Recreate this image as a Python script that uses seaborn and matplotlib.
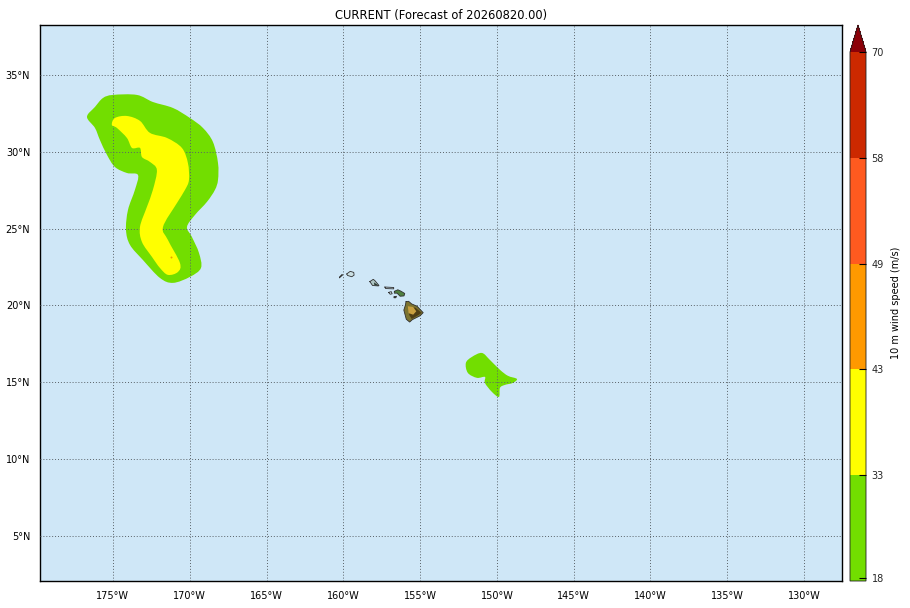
import matplotlib
matplotlib.use("Agg")
import matplotlib.pyplot as plt
from matplotlib.colors import ListedColormap, BoundaryNorm
from matplotlib.cm import ScalarMappable
from matplotlib.path import Path
from matplotlib.patches import PathPatch
import seaborn as sns

title = "CURRENT (Forecast of 20260820.00)"
cbar_label = "10 m wind speed (m/s)"
lon_ticks = [-175, -170, -165, -160, -155, -150, -145, -140, -135, -130]
lat_ticks = [5, 10, 15, 20, 25, 30, 35]
levels = [17.5, 33, 43, 49, 58, 70]
level_ticks = [18, 33, 43, 49, 58, 70]
level_colors = ["#72DE00", "#FFFF00", "#FF9900", "#FF5A1F", "#CC2900"]
over_color = "#8C0008"
ocean_color = "#CFE7F7"

green_a_lon = [-176.69,-176.17,-175.65,-175.0,-173.44,-172.40,-171.09,-169.99,-169.14,-168.49,-168.16,-168.16,-168.36,-168.88,-169.66,-170.18,-169.86,-169.40,-169.27,-169.99,-171.09,-171.94,-173.05,-173.89,-174.15,-174.02,-173.57,-173.37,-174.09,-174.87,-175.39,-175.85,-176.17]
green_a_lat = [32.27,32.92,33.50,33.70,33.70,33.24,32.85,32.20,31.55,30.64,29.27,28.17,27.52,26.74,25.89,25.11,24.46,23.42,22.44,21.86,21.47,21.79,22.96,23.94,24.92,26.22,27.52,28.49,28.62,29.01,29.80,30.77,31.55]
yellow_lon = [-175.07,-174.87,-174.09,-173.24,-172.59,-171.48,-170.51,-170.12,-170.05,-170.31,-170.83,-171.74,-171.42,-170.64,-170.77,-171.42,-171.94,-172.46,-173.11,-173.24,-172.79,-172.40,-172.14,-172.59,-173.11,-173.24,-173.76,-174.09,-174.74]
yellow_lat = [31.75,32.20,32.33,32.01,31.23,30.90,30.25,29.27,28.17,27.52,26.67,25.11,24.26,22.77,22.18,21.99,22.44,23.16,24.13,25.11,26.41,27.52,28.82,29.34,29.66,30.25,30.25,30.90,31.55]
green_b_lon = [-152.02,-151.63,-150.98,-150.46,-149.80,-149.28,-148.70,-148.96,-149.48,-149.80,-149.87,-150.33,-150.78,-150.78,-151.30,-151.89]
green_b_lat = [16.26,16.65,16.91,16.46,15.81,15.42,15.22,14.96,14.83,14.64,14.05,14.38,14.96,15.35,15.29,15.61]
spot_lon = [-171.2]
spot_lat = [23.15]

islands = {
    "niihau": ([-160.25,-160.05,-160.08,-160.25], [21.80,21.98,22.02,21.85], "#4A5A50"),
    "kauai": ([-159.78,-159.55,-159.32,-159.30,-159.45,-159.72], [22.05,22.22,22.15,21.97,21.87,21.95], "#CBE0E4"),
    "oahu": ([-158.28,-158.05,-157.95,-157.68,-157.72,-158.10,-158.20], [21.55,21.70,21.62,21.30,21.27,21.30,21.45], "#AFC6C4"),
    "molokai": ([-157.30,-156.72,-156.72,-157.25], [21.20,21.17,21.08,21.10], "#CFE3EC"),
    "lanai": ([-157.05,-156.88,-156.82,-156.95], [20.85,20.90,20.76,20.73], "#CFE3EC"),
    "maui": ([-156.68,-156.45,-156.25,-156.00,-156.05,-156.30,-156.50,-156.68], [20.92,21.02,20.93,20.78,20.62,20.60,20.80,20.80], "#4F8040"),
    "kahoolawe": ([-156.70,-156.54,-156.58,-156.70], [20.56,20.60,20.50,20.50], "#28382C"),
    "hawaii": ([-155.92,-155.75,-155.55,-155.20,-154.80,-155.00,-155.50,-155.68,-155.90,-156.06,-155.95], [20.25,20.27,20.10,19.95,19.53,19.33,19.08,18.92,19.10,19.70,20.05], "#7C7430"),
}
oahu_dark_lon = [-158.00,-157.70,-157.75,-157.98]
oahu_dark_lat = [21.50,21.30,21.28,21.32]
hawaii_brown_lon = [-155.60,-155.30,-154.90,-155.10,-155.55,-155.72]
hawaii_brown_lat = [19.90,19.85,19.52,19.38,19.12,19.40]
hawaii_tan_lon = [-155.80,-155.45,-155.25,-155.45,-155.75]
hawaii_tan_lat = [19.95,19.90,19.62,19.40,19.50]


def smooth_fill(ax, lon, lat, color, zorder):
    """Closed Catmull-Rom outline through the read points, drawn as Bezier segments."""
    n = len(lon)
    verts = [(lon[0], lat[0])]
    codes = [Path.MOVETO]
    for i in range(n):
        x0, y0 = lon[i - 1], lat[i - 1]
        x1, y1 = lon[i], lat[i]
        x2, y2 = lon[(i + 1) % n], lat[(i + 1) % n]
        x3, y3 = lon[(i + 2) % n], lat[(i + 2) % n]
        verts += [(x1 + (x2 - x0) / 6, y1 + (y2 - y0) / 6),
                  (x2 - (x3 - x1) / 6, y2 - (y3 - y1) / 6),
                  (x2, y2)]
        codes += [Path.CURVE4] * 3
    ax.add_patch(PathPatch(Path(verts, codes), facecolor=color, edgecolor="none", lw=0, zorder=zorder))


sns.set_theme(style="white")
plt.rcParams["font.family"] = "DejaVu Sans"

fig = plt.figure(figsize=(9.10, 6.08), dpi=100, facecolor="white")
W, H = 910, 608
ax = fig.add_axes([40/W, 1-581/H, 802/W, 556/H])
ax.set_xlim(-179.75, -127.53)
ax.set_ylim(2.07, 38.25)
ax.set_facecolor(ocean_color)

smooth_fill(ax, green_a_lon, green_a_lat, level_colors[0], 2)
smooth_fill(ax, yellow_lon, yellow_lat, level_colors[1], 3)
smooth_fill(ax, green_b_lon, green_b_lat, level_colors[0], 2)
sns.scatterplot(x=spot_lon, y=spot_lat, ax=ax, color="#E8A000", s=2, linewidth=0, zorder=4)

for name, (lo, la, col) in islands.items():
    ax.fill(lo, la, color=col, lw=0, zorder=4)
    sns.lineplot(x=lo + lo[:1], y=la + la[:1], ax=ax, sort=False, estimator=None,
                 color="#303030", linewidth=0.6, zorder=5)
ax.fill(oahu_dark_lon, oahu_dark_lat, color="#2A3A30", lw=0, zorder=4.5)
ax.fill(hawaii_brown_lon, hawaii_brown_lat, color="#4E3E14", lw=0, zorder=4.5)
ax.fill(hawaii_tan_lon, hawaii_tan_lat, color="#C8A040", lw=0, zorder=4.6)

ax.set_xticks(lon_ticks)
ax.set_xticklabels([f"{abs(v)}°W" for v in lon_ticks])
ax.set_yticks(lat_ticks)
ax.set_yticklabels([f"{v}°N" for v in lat_ticks])
ax.tick_params(length=0, labelsize=7, pad=7, colors="black")
ax.grid(True, color="#5A6268", linestyle=(0, (1, 2)), linewidth=0.7, zorder=6)
ax.set_axisbelow(False)
for s in ax.spines.values():
    s.set_visible(True)
    s.set_color("black")
    s.set_linewidth(1.0)
ax.set_title(title, fontsize=8.3, color="black", pad=4.3)

cax = fig.add_axes([850/W, 1-581/H, 16/W, 556/H])
cmap = ListedColormap(level_colors)
cmap.set_over(over_color)
norm = BoundaryNorm(levels, cmap.N, extend="neither", clip=False)
cb = fig.colorbar(ScalarMappable(norm=norm, cmap=cmap), cax=cax, extend="max",
                  extendfrac=27/529, spacing="uniform", ticks=level_ticks, drawedges=False)
cb.minorticks_off()
cb.ax.set_axisbelow(False)
cb.ax.set_yticklabels([str(v) for v in level_ticks])
cb.ax.tick_params(labelsize=7, length=5, width=0.8, direction="in", color="black", pad=4, right=True)
cb.outline.set_edgecolor("#202020")
cb.outline.set_linewidth(0.6)
cb.set_label(cbar_label, fontsize=7, color="black", labelpad=5, y=0.5255)

fig.savefig("out.png", dpi=100, facecolor="white")
